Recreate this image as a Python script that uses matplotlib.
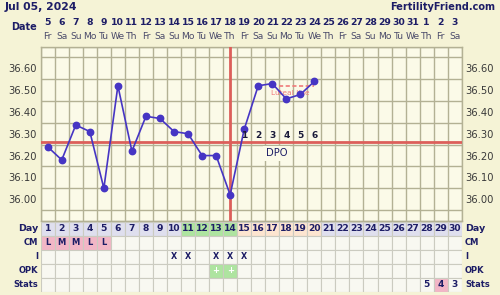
import matplotlib
matplotlib.use("Agg")
import matplotlib.pyplot as plt
import matplotlib.transforms as mtransforms
from matplotlib.patches import Rectangle
import numpy as np

# ---------------- data ----------------
title = "Jul 05, 2024"
site = "FertilityFriend.com"
cycle_days = list(range(1, 31))
date_nums = [5, 6, 7, 8, 9, 10, 11, 12, 13, 14, 15, 16, 17, 18, 19, 20, 21, 22, 23, 24,
             25, 26, 27, 28, 29, 30, 31, 1, 2, 3]
weekdays = ["Fr", "Sa", "Su", "Mo", "Tu", "We", "Th"] * 5
temp_days = list(range(1, 21))
temps = [36.24, 36.18, 36.34, 36.31, 36.05, 36.52, 36.22, 36.38, 36.37, 36.31,
         36.30, 36.20, 36.20, 36.02, 36.32, 36.52, 36.53, 36.46, 36.48, 36.54]
temp_labels = [36.00, 36.10, 36.20, 36.30, 36.40, 36.50, 36.60]
coverline = 36.26
ovulation_day = 14
dpo_days = [15, 16, 17, 18, 19, 20]
dpo_labels = ["1", "2", "3", "4", "5", "6"]
dpo_label_temp = 36.29
luteal_temp = 36.52
luteal_start, luteal_end = 17.5, 20
cm_values = ["L", "M", "M", "L", "L"] + [""] * 25
intercourse_days = [10, 11, 13, 14, 15]
opk_positive_days = [13, 14]
stats_values = {28: "5", 29: "4", 30: "3"}
stats_highlight = [29]
fertile_days = [11, 12, 13, 14]
luteal_phase_days = [15, 16, 17, 18, 19, 20]
row_names = ["Day", "CM", "I", "OPK", "Stats"]

# ---------------- style ----------------
W, H = 500, 295
BG = "#f5f3d6"
PLOT_BG = "#fbfae8"
GRID = "#b3b194"
NAVY = "#1d1d66"
RED = "#dc5f5a"
LINE = "#4635c4"
CELL = "#f8f8f1"
CELL_GRID = "#cbcbc0"
LAV = "#dfdfee"
GREEN = "#aee4a0"
PEACH = "#fde5d0"
PINK = "#f2b6c6"

fig = plt.figure(figsize=(W / 100, H / 100), dpi=100, facecolor=BG)

L, R = 40.7, 461.7
top_px, bot_px = 46.5, 221.0
ax = fig.add_axes([L / W, 1 - bot_px / H, (R - L) / W, (bot_px - top_px) / H])
ax.set_facecolor(PLOT_BG)
ax.set_xlim(0.5, 30.5)
ax.set_ylim(35.90, 36.70)
ax.set_xticks([])
ax.set_xticks(np.arange(0.5, 31, 1), minor=True)
ax.set_yticks(temp_labels)
ax.set_yticklabels([f"{t:.2f}" for t in temp_labels])
ax.set_yticks(np.arange(35.90, 36.701, 0.05), minor=True)
ax.grid(which="minor", color=GRID, lw=1.0)
ax.tick_params(which="both", length=0)
ax.tick_params(axis="y", labelsize=7.2, labelcolor="#3a3a3a", labelleft=True,
               labelright=True, pad=2.6)
for s in ax.spines.values():
    s.set_color(GRID)
    s.set_linewidth(1.0)

# coverline and ovulation line
ax.axhline(coverline, color=RED, lw=2.0, zorder=3)
ax.axvline(ovulation_day, color=RED, lw=2.0, zorder=3)

# luteal line
ax.plot([luteal_start, luteal_end], [luteal_temp, luteal_temp], color="#f07a7a",
        lw=1.2, ls=(0, (2.5, 1.5)), zorder=3)
ax.text(18.3, luteal_temp - 0.035, "Luteal line", color="#f07a7a", fontsize=5.3,
        ha="center", va="center", zorder=3)

# temperatures
ax.plot(temp_days, temps, color=LINE, lw=1.2, marker="o", ms=4.6, zorder=5)

# DPO labels
for d, t in zip(dpo_days, dpo_labels):
    ax.text(d, dpo_label_temp, t, color="#1a1a3a", fontsize=6.5, fontweight="bold",
            ha="center", va="center", zorder=6)
ax.text(17.3, 36.21, "DPO", color=NAVY, fontsize=7.2, ha="center", va="center", zorder=6,
        bbox=dict(boxstyle="square,pad=0.25", fc=PLOT_BG, ec="none"))

# header
btr = mtransforms.blended_transform_factory(ax.transData, fig.transFigure)
for d, dn, wd in zip(cycle_days, date_nums, weekdays):
    fig.text(d, 1 - 22.7 / H, str(dn), transform=btr, color=NAVY, fontsize=6.7,
             fontweight="bold", ha="center", va="center")
    fig.text(d, 1 - 36.2 / H, wd, transform=btr, color="#4a4a6a", fontsize=6.6,
             ha="center", va="center")
fig.text(37 / W, 1 - 27 / H, "Date", color=NAVY, fontsize=7.0, fontweight="bold",
         ha="right", va="center")
fig.text(5 / W, 1 - 7.5 / H, title, color=NAVY, fontsize=7.8, fontweight="bold",
         ha="left", va="center")
fig.text(495 / W, 1 - 6.5 / H, site, color=NAVY, fontsize=7.0, fontweight="bold",
         ha="right", va="center")

# ---------------- table ----------------
t_top, t_bot = 221.5, 291.5
tax = fig.add_axes([L / W, 1 - t_bot / H, (R - L) / W, (t_bot - t_top) / H])
tax.set_xlim(0.5, 30.5)
tax.set_ylim(5, 0)
tax.axis("off")

for d in cycle_days:
    for r in range(5):
        fc = CELL
        if r == 0:
            fc = GREEN if d in fertile_days else (PEACH if d in luteal_phase_days else LAV)
        elif r == 1 and cm_values[d - 1]:
            fc = PINK
        elif r == 3 and d in opk_positive_days:
            fc = GREEN
        elif r == 4 and d in stats_highlight:
            fc = PINK
        tax.add_patch(Rectangle((d - 0.5, r), 1, 1, facecolor=fc, edgecolor=CELL_GRID,
                                lw=0.8))
    tax.text(d, 0.52, str(d), color=NAVY, fontsize=6.6, fontweight="bold",
             ha="center", va="center")
    if cm_values[d - 1]:
        tax.text(d, 1.52, cm_values[d - 1], color=NAVY, fontsize=6.0, fontweight="bold",
                 ha="center", va="center")
    if d in intercourse_days:
        tax.text(d, 2.52, "X", color=NAVY, fontsize=5.8, fontweight="bold",
                 ha="center", va="center")
    if d in opk_positive_days:
        tax.text(d, 3.5, "+", color="white", fontsize=6.0, fontweight="bold",
                 ha="center", va="center")
    if d in stats_values:
        tax.text(d, 4.52, stats_values[d], color=NAVY, fontsize=6.5, fontweight="bold",
                 ha="center", va="center")

ytr = tax.get_yaxis_transform()
for r, name in enumerate(row_names):
    fs = 6.8 if r == 0 else 6.0
    tax.text(-0.006, r + 0.52, name, transform=ytr, color=NAVY, fontsize=fs,
             fontweight="bold", ha="right", va="center")
    tax.text(1.008, r + 0.52, name, transform=ytr, color=NAVY, fontsize=fs,
             fontweight="bold", ha="left", va="center")

fig.savefig("out.png", dpi=100, facecolor=BG)
